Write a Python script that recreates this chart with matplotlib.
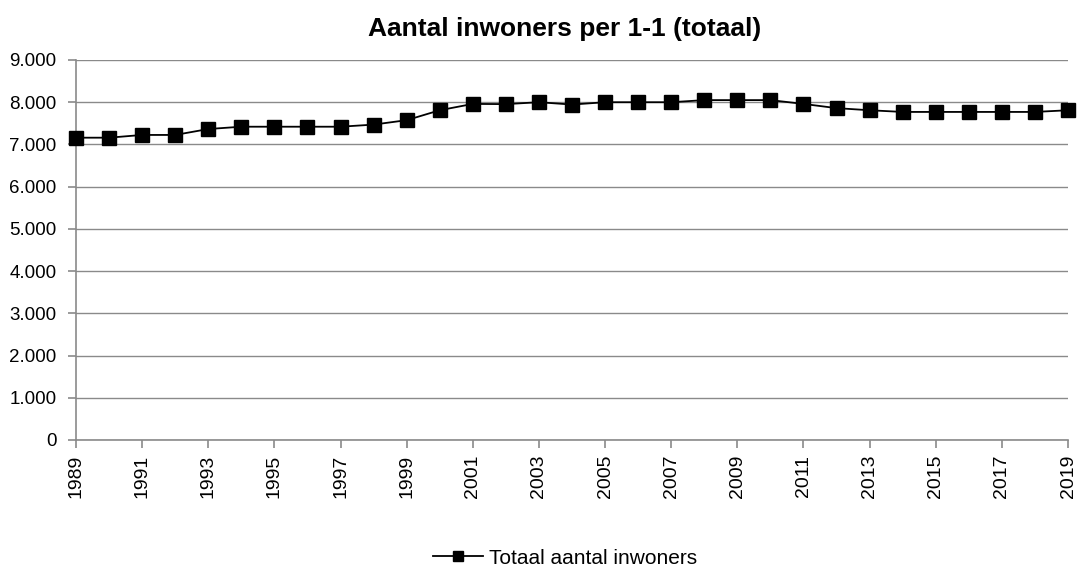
import matplotlib
matplotlib.use("Agg")
import matplotlib.pyplot as plt
from matplotlib.ticker import FuncFormatter, MultipleLocator

years = list(range(1989, 2020))
inwoners = [7160, 7160, 7225, 7225, 7365, 7420, 7420, 7420, 7420, 7470,
            7575, 7810, 7960, 7955, 8000, 7945, 8000, 8000, 8000, 8050,
            8050, 8050, 7960, 7860, 7810, 7770, 7770, 7770, 7770, 7770, 7810]
xticks = years[::2]
title = "Aantal inwoners per 1-1 (totaal)"
series_label = "Totaal aantal inwoners"

plt.rcParams['font.family'] = ['Liberation Sans', 'DejaVu Sans']

fig = plt.figure(figsize=(10.77, 5.68), dpi=100)
L, R, T, B = 76, 1068, 60, 440
ax = fig.add_axes([L/1077, 1 - B/568, (R-L)/1077, (B-T)/568])

ax.plot(years, inwoners, color='black', lw=1.3, marker='s', markersize=9.4,
        markerfacecolor='black', markeredgecolor='black', label=series_label, clip_on=False, zorder=3)

ax.set_xlim(1989, 2019)
ax.set_ylim(0, 9000)
ax.yaxis.set_major_locator(MultipleLocator(1000))
ax.set_xticks(xticks)
ax.yaxis.set_major_formatter(FuncFormatter(lambda v, p: f"{int(v):,}".replace(",", ".")))
ax.set_xticklabels([str(y) for y in xticks])
ax.grid(axis='y', color='#8a8a8a', lw=1)
ax.set_axisbelow(True)
for s in ['top', 'right']:
    ax.spines[s].set_visible(False)
for s in ['left', 'bottom']:
    ax.spines[s].set_color('#8a8a8a')
    ax.spines[s].set_linewidth(1.2)
ax.tick_params(axis='both', colors='#8a8a8a', length=5.5, width=1.2, direction='out', labelcolor='black')
ax.tick_params(axis='x', labelrotation=90, pad=5, labelsize=14)
ax.tick_params(axis='y', pad=8.5, labelsize=13.5)

fig.text(565/1077, 1 - 29/568, title, ha='center', va='center', fontsize=19, fontweight='bold')
leg = fig.legend(loc='center', bbox_to_anchor=(565/1077, 1 - 558/568), frameon=False, fontsize=15,
                 handlelength=2.4, handletextpad=0.3, markerscale=0.7, borderpad=0, borderaxespad=0)

fig.savefig("out.png", dpi=100)
